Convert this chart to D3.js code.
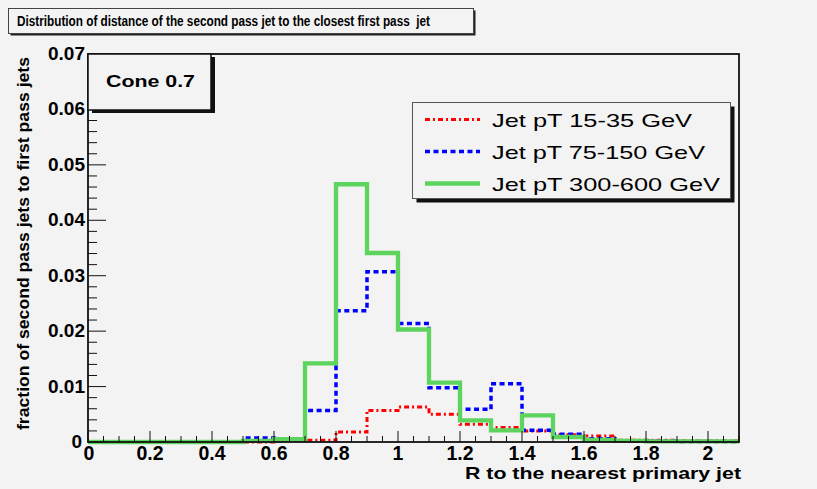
<!DOCTYPE html>
<html>
<head>
<meta charset="utf-8">
<script src="https://cdn.jsdelivr.net/npm/d3@7"></script>
<style>
  html, body { margin: 0; padding: 0; background: #f3f3f3; }
  svg { display: block; font-family: "Liberation Sans", Arial, sans-serif; }
</style>
</head>
<body>
<div id="chart"></div>
<script>
// bin lower edges 0.0 .. 2.0, width 0.1
const binEdges = d3.range(0, 21).map((i) => +(i * 0.1).toFixed(1));
const ptLow = [0, 0, 0, 0, 0, 0, 0.0003, 0.0003, 0.0018, 0.0057, 0.0063, 0.0050, 0.0032, 0.0026, 0.0020, 0.0013, 0.0011, 0.0003, 0.0003, 0.0002, 0.0002];
const ptMid = [0, 0, 0, 0, 0, 0.0007, 0.0004, 0.0057, 0.0237, 0.0307, 0.0214, 0.0098, 0.0059, 0.0105, 0.0021, 0.0014, 0.0006, 0.0002, 0.0002, 0.0001, 0.0001];
const ptHigh = [0, 0, 0, 0, 0, 0.0002, 0.0005, 0.0142, 0.0465, 0.0341, 0.0203, 0.0107, 0.0039, 0.0021, 0.0048, 0.0009, 0.0004, 0.0002, 0.0001, 0.0001, 0.0001];
const seriesNames = ["Jet pT 15-35 GeV", "Jet pT 75-150 GeV", "Jet pT 300-600 GeV"];
const xTicks = [0, 0.2, 0.4, 0.6, 0.8, 1, 1.2, 1.4, 1.6, 1.8, 2];
const yTicks = [0, 0.01, 0.02, 0.03, 0.04, 0.05, 0.06, 0.07];

const width = 817, height = 489;
const margin = { left: 88, right: 78, top: 54, bottom: 47 };

const svg = d3.select("#chart").append("svg").attr("width", width).attr("height", height);
svg.append("rect").attr("width", width).attr("height", height).attr("fill", "#f3f3f3");

const x = d3.scaleLinear().domain([0, 2.1]).range([margin.left, width - margin.right]);
const y = d3.scaleLinear().domain([0, 0.07]).range([height - margin.bottom, margin.top]);

// title box
svg.append("rect").attr("x", 10.5).attr("y", 10.5).attr("width", 465).attr("height", 25).attr("fill", "#222");
svg.append("rect").attr("x", 8.5).attr("y", 8.5).attr("width", 465).attr("height", 25)
  .attr("fill", "#f3f3f3").attr("stroke", "#444").attr("stroke-width", 1);
svg.append("text").attr("x", 17).attr("y", 26).attr("font-size", 14).attr("font-weight", "bold")
  .attr("textLength", 413).attr("lengthAdjust", "spacingAndGlyphs")
  .style("white-space", "pre")
  .text("Distribution of distance of the second pass jet to the closest first pass  jet");

// histograms
const series = [
  { values: ptLow, color: "#ff0000", dash: "5,3,2,3", width: 3 },
  { values: ptMid, color: "#0000ff", dash: "5,3.5", width: 3.5 },
  { values: ptHigh, color: "#5dd45d", dash: null, width: 4.3 },
];

function stepPoints(values) {
  const pts = [];
  values.forEach((v, i) => {
    pts.push([binEdges[i], v]);
    pts.push([+(binEdges[i] + 0.1).toFixed(1), v]);
  });
  return pts;
}
const line = d3.line().x((d) => x(d[0])).y((d) => y(d[1]));

series.forEach((s) => {
  svg.append("path").attr("d", line(stepPoints(s.values)))
    .attr("fill", "none").attr("stroke", s.color).attr("stroke-width", s.width)
    .attr("stroke-dasharray", s.dash);
});

// frame
const x0 = x(0), x1 = x(2.1), y0 = y(0), y1 = y(0.07);
svg.append("rect").attr("x", x0).attr("y", y1).attr("width", x1 - x0).attr("height", y0 - y1)
  .attr("fill", "none").attr("stroke", "#111").attr("stroke-width", 1.8);

// y axis ticks (inside)
const yMinor = d3.range(0, 0.0701, 0.002);
svg.append("g").selectAll("line").data(yMinor).join("line")
  .attr("x1", x0).attr("x2", (d) => x0 + (Math.abs(d / 0.01 - Math.round(d / 0.01)) < 1e-6 ? 18 : 9))
  .attr("y1", (d) => y(d)).attr("y2", (d) => y(d))
  .attr("stroke", "#111").attr("stroke-width", 1);
svg.append("g").selectAll("text").data(yTicks).join("text")
  .attr("x", (d) => d === 0 ? x0 - 6 : x0 - 3).attr("y", (d) => y(d) + 6)
  .attr("text-anchor", "end").attr("font-size", 19).attr("font-weight", "bold")
  .text((d) => d === 0 ? "0" : d3.format(".2f")(d));

// x axis ticks (inside)
const xMinor = d3.range(0, 2.101, 0.05);
svg.append("g").selectAll("line").data(xMinor).join("line")
  .attr("x1", (d) => x(d)).attr("x2", (d) => x(d))
  .attr("y1", y0).attr("y2", (d) => y0 - (Math.abs(d / 0.2 - Math.round(d / 0.2)) < 1e-6 ? 11 : 6))
  .attr("stroke", "#111").attr("stroke-width", 1);
svg.append("g").selectAll("text").data(xTicks).join("text")
  .attr("x", (d) => d === 0 ? x(d) + 1 : x(d)).attr("y", 460)
  .attr("text-anchor", "middle").attr("font-size", 19.5).attr("font-weight", "bold")
  .text((d) => d3.format("~g")(d));

// axis titles
svg.append("text").attr("x", 465).attr("y", 479)
  .attr("font-size", 16.5).attr("font-weight", "bold")
  .attr("textLength", 276).attr("lengthAdjust", "spacingAndGlyphs")
  .text("R to the nearest primary jet");
svg.append("text").attr("transform", "translate(29,430) rotate(-90)")
  .attr("font-size", 17).attr("font-weight", "bold")
  .attr("textLength", 373).attr("lengthAdjust", "spacingAndGlyphs")
  .text("fraction of second pass jets to first pass jets");

// Cone box
svg.append("rect").attr("x", x0 + 4).attr("y", y1 + 3).attr("width", 123).attr("height", 56).attr("fill", "#111");
svg.append("rect").attr("x", x0).attr("y", y1).attr("width", 123).attr("height", 56)
  .attr("fill", "#f3f3f3").attr("stroke", "#111").attr("stroke-width", 1.5);
svg.append("text").attr("x", 106).attr("y", 87).attr("font-size", 17).attr("font-weight", "bold")
  .attr("textLength", 89).attr("lengthAdjust", "spacingAndGlyphs").text("Cone 0.7");

// legend
const lg = { x: 412.5, y: 102.5, w: 318, h: 96 };
svg.append("rect").attr("x", lg.x + 4).attr("y", lg.y + 4).attr("width", lg.w).attr("height", lg.h).attr("fill", "#111");
svg.append("rect").attr("x", lg.x).attr("y", lg.y).attr("width", lg.w).attr("height", lg.h)
  .attr("fill", "#f3f3f3").attr("stroke", "#555").attr("stroke-width", 1);
const rowY = [119.5, 151.5, 183.5];
const textLen = [200, 213, 228];
series.forEach((s, i) => {
  svg.append("line").attr("x1", 425).attr("x2", 480).attr("y1", rowY[i]).attr("y2", rowY[i])
    .attr("stroke", s.color).attr("stroke-width", s.width).attr("stroke-dasharray", s.dash);
  svg.append("text").attr("x", 492).attr("y", rowY[i] + 7).attr("font-size", 19)
    .attr("textLength", textLen[i]).attr("lengthAdjust", "spacingAndGlyphs").text(seriesNames[i]);
});
</script>
</body>
</html>
